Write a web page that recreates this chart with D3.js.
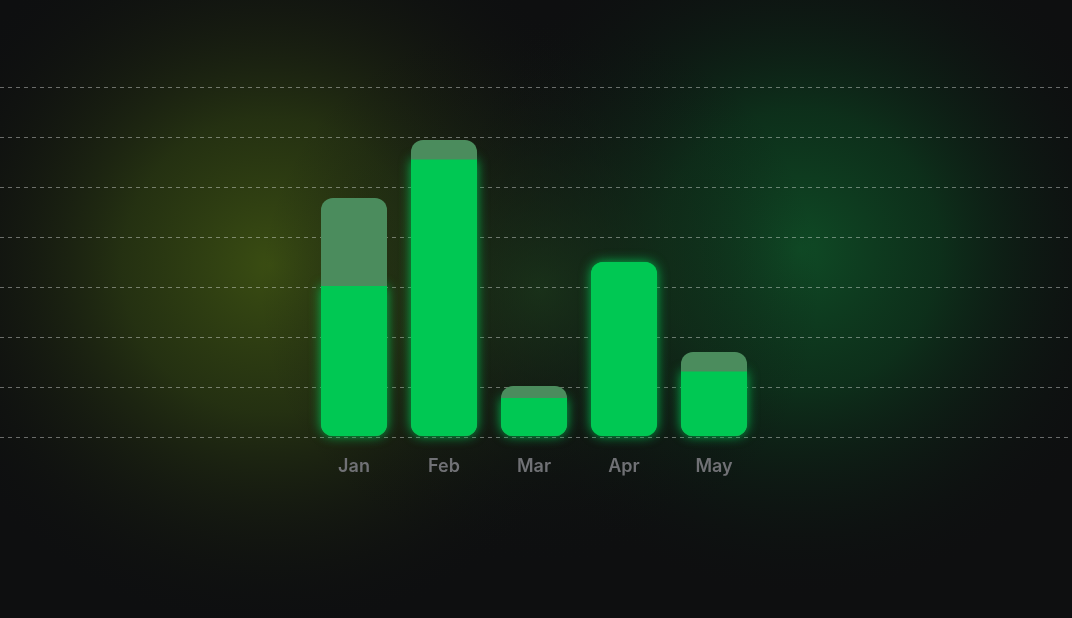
<!DOCTYPE html>
<html>
<head>
<meta charset="utf-8">
<script src="https://cdn.jsdelivr.net/npm/d3@7"></script>
<style>
  html, body { margin: 0; padding: 0; background: #0e0f10; }
  svg { display: block; }
</style>
</head>
<body>
<div id="container"></div>
<script>
const width = 1072;
const height = 618;

// data
const months = ["Jan", "Feb", "Mar", "Apr", "May"];
const targets = [4.78, 5.94, 1.02, 3.5, 1.7];
const actuals = [3.02, 5.55, 0.78, 3.5, 1.31];
const gridTicks = [0, 1, 2, 3, 4, 5, 6, 7];

const green = "#00c853";
const ghost = "#4b8c5d";
const radius = 12;

const svg = d3.select("#container").append("svg")
    .attr("width", width)
    .attr("height", height);

const defs = svg.append("defs");

// background glows
function glow(id, cx, cy, r, stops) {
    const g = defs.append("radialGradient").attr("id", id)
        .attr("gradientUnits", "userSpaceOnUse")
        .attr("cx", cx).attr("cy", cy).attr("r", r);
    stops.forEach(s => g.append("stop")
        .attr("offset", s[0]).attr("stop-color", s[1]).attr("stop-opacity", s[2]));
}
glow("glowL", 270, 265, 370, [["0%", "#3a4d12", 1], ["40%", "#2a3912", 0.8], ["100%", "#0e0f10", 0]]);
glow("glowR", 800, 250, 350, [["0%", "#0f4a25", 1], ["40%", "#0d3a1e", 0.75], ["100%", "#0e0f10", 0]]);
glow("glowM", 540, 290, 280, [["0%", "#1c3a1c", 0.7], ["100%", "#0e0f10", 0]]);

// bar glow
const f = defs.append("filter").attr("id", "barGlow")
    .attr("x", "-30%").attr("y", "-30%").attr("width", "160%").attr("height", "160%");
f.append("feGaussianBlur").attr("in", "SourceGraphic").attr("stdDeviation", 6).attr("result", "blur");
const merge = f.append("feMerge");
merge.append("feMergeNode").attr("in", "blur");
merge.append("feMergeNode").attr("in", "SourceGraphic");

svg.append("rect").attr("width", width).attr("height", height).attr("fill", "#0e0f10");
["glowL", "glowR", "glowM"].forEach(id =>
    svg.append("rect").attr("width", width).attr("height", height).attr("fill", `url(#${id})`));

// scales
const x = d3.scaleBand()
    .domain(months)
    .range([309, 759])
    .paddingInner(24 / 90)
    .paddingOuter(12 / 90);

const y = d3.scaleLinear()
    .domain([0, 7])
    .range([437, 87]);

// grid
svg.append("g")
    .selectAll("line")
    .data(gridTicks)
    .join("line")
    .attr("x1", 0)
    .attr("x2", width)
    .attr("y1", d => y(d) + 0.5)
    .attr("y2", d => y(d) + 0.5)
    .attr("stroke", "rgba(255,255,255,0.38)")
    .attr("stroke-width", 1)
    .attr("stroke-dasharray", "4,4");

// rounded bar path, top corners optional
function barPath(x0, w, top, bottom, rTop, rBot) {
    const p = d3.path();
    p.moveTo(x0, top + rTop);
    if (rTop) p.arcTo(x0, top, x0 + rTop, top, rTop); else p.lineTo(x0, top);
    p.lineTo(x0 + w - rTop, top);
    if (rTop) p.arcTo(x0 + w, top, x0 + w, top + rTop, rTop);
    p.lineTo(x0 + w, bottom - rBot);
    p.arcTo(x0 + w, bottom, x0 + w - rBot, bottom, rBot);
    p.lineTo(x0 + rBot, bottom);
    p.arcTo(x0, bottom, x0, bottom - rBot, rBot);
    p.closePath();
    return p.toString();
}

const rows = months.map((m, i) => ({ month: m, target: targets[i], actual: actuals[i] }));
const bw = x.bandwidth();

// glow layer for green
svg.append("g")
    .attr("filter", "url(#barGlow)")
    .selectAll("path")
    .data(rows)
    .join("path")
    .attr("d", d => barPath(x(d.month), bw, y(d.actual), y(0) - 1,
        d.actual >= d.target ? radius : 0, radius))
    .attr("fill", green)
    .attr("opacity", 0.9);

// target (ghost) bars
svg.append("g")
    .selectAll("path")
    .data(rows.filter(d => d.target > d.actual))
    .join("path")
    .attr("d", d => barPath(x(d.month), bw, y(d.target), y(0) - 1, radius, radius))
    .attr("fill", ghost);

// actual bars
svg.append("g")
    .selectAll("path")
    .data(rows)
    .join("path")
    .attr("d", d => barPath(x(d.month), bw, y(d.actual), y(0) - 1,
        d.actual >= d.target ? radius : 0, radius))
    .attr("fill", green);

// labels
svg.append("g")
    .selectAll("text")
    .data(months)
    .join("text")
    .attr("x", d => x(d) + bw / 2)
    .attr("y", 472)
    .attr("text-anchor", "middle")
    .attr("fill", "#707175")
    .style("font-family", "Inter, 'Noto Sans', sans-serif")
    .style("font-size", "18px")
    .style("font-weight", 600)
    .text(d => d);
</script>
</body>
</html>
